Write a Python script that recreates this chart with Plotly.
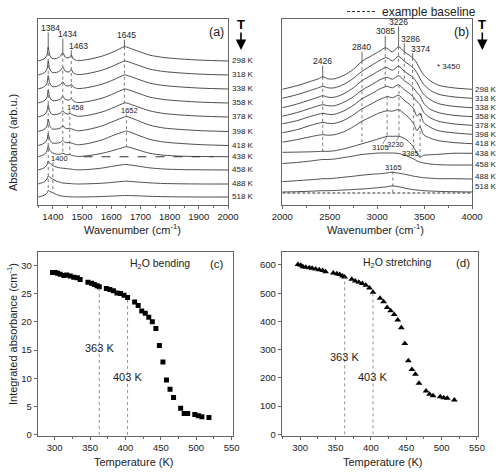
import numpy as np
import plotly.graph_objects as go

FONT = "Liberation Sans, Arial, sans-serif"
INK = "#222222"
CURVE = "#4d4d4d"
GUIDE = "#555555"
FRAME = "#666666"

TEMP_LABELS = ["298 K", "318 K", "338 K", "358 K", "378 K", "398 K",
               "418 K", "438 K", "458 K", "488 K", "518 K"]

# ---------------- panel (a): bending region ----------------
WN_A = [1350, 1372, 1380, 1384, 1389, 1398, 1412, 1426, 1434, 1442, 1452, 1458, 1463,
        1470, 1485, 1520, 1570, 1610, 1645, 1652, 1690, 1730, 1780, 1840, 1910, 2000]
A_298 = [0, 2.5, 6, 14, 6, 2.5, 2.5, 5, 8.3, 4, 3, 4, 6, 2, 0.5, 1.5, 5, 9.5, 14.3, 14, 10, 6, 3.5, 2, 0.8, 0]
A_318 = [0, 2.5, 6, 14, 6, 2.5, 2.5, 4.5, 7.8, 4, 3, 3.5, 5.5, 2, 0.5, 1.5, 5, 9.5, 14, 13.8, 10, 6, 3.5, 2, 0.8, 0]
A_338 = [0, 2.5, 6, 13.5, 6, 2.5, 2.5, 4.5, 7.3, 3.8, 3, 3.5, 5, 2, 0.5, 1.5, 5, 9.5, 14, 13.8, 10, 6, 3.5, 2, 0.8, 0]
A_358 = [0, 2.5, 6, 13, 6, 2.5, 2.5, 4, 6.8, 3.5, 3, 3.3, 4.5, 2, 0.5, 1.5, 5, 9.5, 14, 13.8, 10, 6, 3.5, 2, 0.8, 0]
A_378 = [0, 2.5, 6, 12.5, 6, 2.5, 2.5, 4, 6.2, 3.5, 3, 3.5, 3, 2, 0.7, 1.7, 5.2, 9.7, 14, 14, 10.3, 6.3, 3.5, 2, 0.8, 0]
A_398 = [0, 2.5, 6, 12.5, 6, 2.5, 2.5, 3.5, 5.7, 3.3, 3, 3.3, 2.8, 2, 0.7, 2, 5.8, 10.5, 14.5, 15, 11, 6.5, 3.5, 2, 0.8, 0]
A_418 = [0, 2.5, 6, 12, 6, 2.5, 2.3, 3.2, 5, 3, 2.8, 3, 2.5, 1.8, 0.7, 2, 5.8, 10.5, 14, 14.5, 10.5, 6.3, 3.5, 2, 0.8, 0]
A_438 = [0, 2.5, 6, 11, 6.5, 4, 2.5, 2.5, 3.5, 2.3, 2, 2.3, 1.5, 1, 0.3, 1, 3.5, 6.5, 9.5, 10, 7, 3.5, 1.5, 0.5, 0.2, 0]
A_458 = [0, 2.5, 5.5, 9, 7, 4.5, 3, 2, 1.8, 1.5, 1.2, 1, 0.8, 0.5, 0.2, 0.5, 2, 4, 5.5, 5.5, 4, 2.2, 1, 0.4, 0.2, 0]
A_488 = [0, 2.5, 5, 8, 7, 5, 3, 1.5, 1, 0.8, 0.5, 0.5, 0.3, 0.2, 0, 0.2, 0.8, 1.8, 2.8, 2.8, 2, 1.2, 0.5, 0.2, 0, 0]
A_518 = [0, 2, 4, 6.5, 5.5, 4.5, 2.5, 1.2, 0.8, 0.5, 0.3, 0.2, 0.2, 0.1, 0, 0.1, 0.5, 1, 1.5, 1.5, 1.2, 0.7, 0.3, 0.1, 0, 0]
SPEC_A = [A_298, A_318, A_338, A_358, A_378, A_398, A_418, A_438, A_458, A_488, A_518]
OFFSET_A = [144, 130, 116, 102, 88, 73.5, 59.5, 48.3, 35, 21, 8]
BASELINE_A_WN = [1505, 1950]

# ---------------- panel (b): stretching region ----------------
WN_B = [2000, 2150, 2300, 2380, 2426, 2480, 2550, 2650, 2750, 2840, 2950, 3030, 3085,
        3105, 3160, 3226, 3286, 3340, 3385, 3420, 3450, 3490, 3560, 3650, 3800, 4000]
B_298 = [0, 3.5, 8, 10.5, 12.5, 10.5, 10.5, 14, 20, 28, 34, 38.5, 41.5, 41, 37.5, 42.5, 37.5, 34, 30.5, 26, 20.5, 14.5, 8.5, 4, 1.5, 0]
B_318 = [0, 3.5, 8, 10.5, 12, 10.5, 10.5, 14, 20, 27, 33.5, 38, 40.5, 40.5, 37.5, 42, 37, 33.5, 30, 25.5, 20, 14, 8, 4, 1.5, 0]
B_338 = [0, 3.5, 8, 10.5, 12, 10.5, 10.5, 14, 20, 27, 33, 37.5, 40, 40, 37.5, 41.5, 36.5, 33, 29.5, 25, 19.5, 13.5, 8, 4, 1.5, 0]
B_358 = [0.5, 4, 8.5, 11, 12, 11, 11, 14.5, 20, 26.5, 32.5, 37, 39, 39.5, 37.5, 41, 36, 32.5, 28.5, 24, 21, 13.5, 7.5, 4, 1.5, 0]
B_378 = [1.5, 4.5, 9, 11, 12, 11, 11, 14.5, 20, 26.5, 32, 36.5, 38.5, 39, 37.5, 40.5, 35.5, 32, 28, 23.5, 21, 13, 7.5, 4, 1.5, 0]
B_398 = [1.5, 4.5, 9, 11, 12, 11, 11, 14, 19.5, 25.5, 31, 35, 37, 38, 36.5, 39, 34, 30, 25.5, 18, 21, 12, 7, 3.5, 1.5, 0]
B_418 = [1.5, 4, 7, 8.5, 9, 8.5, 9, 12, 17, 22.5, 27.5, 31, 32.5, 33, 32.5, 34, 30, 25.5, 20, 13, 17, 9, 5.5, 3, 1.2, 0]
B_438 = [1, 1.2, 1.5, 1.8, 2, 2, 2.5, 4.5, 7, 9.5, 12.5, 15, 16.5, 17, 17, 17, 15, 11, 6, 0, -4, -2, -1.5, -1, 0, 0]
B_458 = [1.5, 2.5, 4, 5, 5.5, 5.5, 6, 7.5, 9, 10.5, 11.5, 12, 12, 12, 12, 11.5, 10, 8, 6, 4, 3, 2, 1, 0.3, 0, 0]
B_488 = [-5, -4, -3, -2.5, -2, -2, -1.5, -0.5, 0.5, 1.5, 2.5, 3, 3.5, 3.8, 4.5, 3.5, 2.5, 1.5, 0.5, 0, -0.5, -1, -1.5, -2, -2, -2.3]
B_518 = [-5.3, -5, -4.5, -4.2, -4, -4, -3.8, -3.3, -2.8, -2.3, -1.5, -0.8, -0.3, 0, 0.8, 0, -1.3, -2.3, -3, -3.3, -3.6, -4, -4.3, -4.7, -5, -5.3]
SPEC_B = [B_298, B_318, B_338, B_358, B_378, B_398, B_418, B_438, B_458, B_488, B_518]
OFFSET_B = [115.7, 106.7, 97.3, 88.3, 79.7, 70.7, 61.3, 51.7, 40, 28.3, 18.3]
BASELINE_B_WN = [2000, 4000]
BASELINE_B_LEVEL = 12

# ---------------- panels (c), (d): integrated absorbance ----------------
T_INT = [297, 301, 304, 308, 313, 317, 322, 327, 332, 336, 347, 352, 356, 360, 363,
         373, 378, 383, 388, 393, 398, 403, 413, 418, 423, 428, 433, 438, 443, 448,
         453, 458, 463, 468, 478, 483, 488, 498, 503, 508, 518]
BEND = [28.7, 28.7, 28.6, 28.4, 28.2, 28.3, 28.1, 27.9, 27.8, 27.5, 27.0, 26.8, 26.6, 26.4, 26.2,
        25.9, 25.7, 25.5, 25.1, 25.0, 24.7, 24.3, 23.5, 22.9, 21.9, 21.5, 20.8, 20.0, 18.8, 15.8,
        12.9, 9.7, 8.1, 6.6, 4.7, 3.8, 3.8, 3.6, 3.4, 3.2, 3.1]
STRETCH = [602, 599, 594, 592, 590, 588, 586, 583, 580, 576, 572, 569, 566, 561, 557,
           549, 543, 539, 534, 528, 518, 503, 482, 470, 449, 438, 425, 405, 378, 322,
           261, 230, 213, 181, 154, 142, 137, 133, 130, 128, 122]
MARK_T = [363, 403]

fig = go.Figure()


def line(xs, ys, ax, dash=None, width=0.8, color=GUIDE):
    fig.add_trace(go.Scatter(x=xs, y=ys, mode="lines", xaxis=ax[0], yaxis=ax[1],
                             line=dict(color=color, width=width, dash=dash),
                             showlegend=False, hoverinfo="skip"))


def text(s, x, y, ax, size=8.5, xanchor="center", yanchor="middle", **kw):
    fig.add_annotation(text=s, x=x, y=y, xref=ax[0], yref=ax[1], showarrow=False,
                       xanchor=xanchor, yanchor=yanchor,
                       font=dict(family=FONT, size=size, color=INK), **kw)


AX_A, AX_B, AX_C, AX_D = ("x", "y"), ("x2", "y2"), ("x3", "y3"), ("x4", "y4")


def val(spec, offs, wns, i, wn):
    return float(np.interp(wn, wns, spec[i]) + offs[i])


# spectra
for i, s in enumerate(SPEC_A):
    fig.add_trace(go.Scatter(x=WN_A, y=np.array(s) + OFFSET_A[i], mode="lines",
                             xaxis="x", yaxis="y", showlegend=False, hoverinfo="skip",
                             line=dict(color=CURVE, width=1, shape="spline", smoothing=0.8)))
for i, s in enumerate(SPEC_B):
    fig.add_trace(go.Scatter(x=WN_B, y=np.array(s) + OFFSET_B[i], mode="lines",
                             xaxis="x2", yaxis="y2", showlegend=False, hoverinfo="skip",
                             line=dict(color=CURVE, width=1, shape="spline", smoothing=0.8)))

# example baselines
fig.add_trace(go.Scatter(x=BASELINE_A_WN, y=[OFFSET_A[7]] * 2, mode="lines", xaxis="x", yaxis="y",
                         line=dict(color="#333", width=1.1, dash="dash"), showlegend=False,
                         hoverinfo="skip"))
fig.add_trace(go.Scatter(x=BASELINE_B_WN, y=[BASELINE_B_LEVEL] * 2, mode="lines", xaxis="x2",
                         yaxis="y2", name="example baseline",
                         line=dict(color="#333", width=1.1, dash="3px,2px"), showlegend=True,
                         hoverinfo="skip"))

va = lambda i, wn: val(SPEC_A, OFFSET_A, WN_A, i, wn)
vb = lambda i, wn: val(SPEC_B, OFFSET_B, WN_B, i, wn)

# ---- peak markers (a): (label, wn, label x, label y, first curve, last curve)
for lab, wn, lx, ly, i0, i1 in [("1384", 1384, 1391, 177, 0, 10), ("1434", 1434, 1450, 171, 0, 7),
                                ("1463", 1463, 1487, 159.3, 0, 3), ("1645", 1645, 1652, 169.7, 0, 4)]:
    text(lab, lx, ly, AX_A, size=8.5)
    line([wn, wn], [ly - 4.5, va(i0, wn)], AX_A, width=0.9)
    line([wn, wn], [va(i0, wn), va(i1, wn)], AX_A, dash="dot")
for lab, wn, lx, ly, i1 in [("1458", 1458, 1477, 97.7, 7), ("1652", 1652, 1664, 94.3, 7),
                            ("1400", 1400, 1421, 46.3, 10)]:
    text(lab, lx, ly, AX_A, size=7.5)
    line([wn, wn], [ly - 3.5, va(i1, wn)], AX_A, dash="dot")

# ---- peak markers (b)
for lab, wn, lx, ly, i1 in [("2426", 2426, 2424, 143.7, 7), ("2840", 2840, 2838, 157.7, 7),
                            ("3085", 3085, 3089, 173.7, 4), ("3226", 3226, 3229, 183, 3),
                            ("3286", 3286, 3347, 166.3, 3), ("3374", 3374, 3456, 156.3, 4)]:
    text(lab, lx, ly, AX_B, size=8.5)
    line([wn, wn], [ly - 4.5, vb(0, wn)], AX_B, width=0.9)
    line([wn, wn], [vb(0, wn), vb(i1, wn)], AX_B, dash="dot")
for lab, wn, lx, ly, i0 in [("3105", 3105, 3034, 57.7, 5), ("3230", 3230, 3190, 60.7, 4),
                            ("3385", 3385, 3355, 51.3, 4)]:
    text(lab, lx, ly, AX_B, size=7.5)
    line([wn, wn], [vb(i0, wn), vb(7, wn)], AX_B, dash="dot")
    line([wn, lx + 0.35 * (wn - lx)], [vb(7, wn), ly + 3.5], AX_B, width=0.7)
text("*", 3453, 89, AX_B, size=8)
line([3453, 3453], [86, vb(7, 3450)], AX_B, dash="dot")
text("* 3450", 3759, 138.7, AX_B, size=8)
text("3165", 3170, 37.7, AX_B, size=7.5)
line([3165, 3165], [33.5, BASELINE_B_LEVEL], AX_B, dash="dot")

# temperature labels
for i, lab in enumerate(TEMP_LABELS):
    fig.add_annotation(text=lab, x=1, y=OFFSET_A[i], xref="x domain", yref="y", xanchor="left",
                       yanchor="middle", xshift=2, showarrow=False,
                       font=dict(family=FONT, size=8, color=INK))
    fig.add_annotation(text=lab, x=1, y=OFFSET_B[i], xref="x2 domain", yref="y2", xanchor="left",
                       yanchor="middle", xshift=1, showarrow=False,
                       font=dict(family=FONT, size=8, color=INK))

text("(a)", 1959, 173, AX_A, size=12.5)
text("(b)", 3892, 173, AX_B, size=12.5)

# T arrows
for px in (241, 482.3):
    fig.add_annotation(text="<b>T</b>", x=px / 500, y=1 - 24 / 474, xref="paper", yref="paper",
                       xanchor="center", yanchor="middle", showarrow=False,
                       font=dict(family=FONT, size=13, color="black"))
    fig.add_annotation(text="", x=px / 500, y=1 - 50 / 474, xref="paper", yref="paper",
                       showarrow=True, ax=0, ay=-19, arrowhead=2, arrowsize=1.3, arrowwidth=1.6,
                       arrowcolor="black")

# ---- (c) and (d)
fig.add_trace(go.Scatter(x=T_INT, y=BEND, mode="markers", xaxis="x3", yaxis="y3",
                         marker=dict(symbol="square", size=5, color="black"),
                         showlegend=False, hoverinfo="skip"))
fig.add_trace(go.Scatter(x=T_INT, y=STRETCH, mode="markers", xaxis="x4", yaxis="y4",
                         marker=dict(symbol="triangle-up", size=6, color="black"),
                         showlegend=False, hoverinfo="skip"))
for t in MARK_T:
    line([t, t], [0, float(np.interp(t, T_INT, BEND))], AX_C, dash="dot", width=0.8, color="#777")
    line([t, t], [0, float(np.interp(t, T_INT, STRETCH))], AX_D, dash="dot", width=0.8, color="#777")
text("363 K", 363, 15.3, AX_C, size=11)
text("403 K", 403, 10.3, AX_C, size=11)
text("363 K", 363, 273, AX_D, size=11)
text("403 K", 403, 204, AX_D, size=11)
text("H<sub>2</sub>O bending", 448.8, 30.2, AX_C, size=10.5)
text("(c)", 529, 30.2, AX_C, size=11.5)
text("H<sub>2</sub>O stretching", 436.5, 606, AX_D, size=10.5)
text("(d)", 530.6, 606, AX_D, size=11.5)


def ptext(s, px, py, size=11, angle=0):
    fig.add_annotation(text=s, x=px / 500, y=1 - py / 474, xref="paper", yref="paper",
                       xanchor="center", yanchor="middle", showarrow=False, textangle=angle,
                       font=dict(family=FONT, size=size, color=INK))


ptext("Wavenumber (cm<sup>-1</sup>)", 132, 229)
ptext("Wavenumber (cm<sup>-1</sup>)", 375, 229)
ptext("Temperature (K)", 133, 462)
ptext("Temperature (K)", 382, 462)
ptext("Absorbance (arb.u.)", 13, 143, angle=-90)
ptext("Integrated absorbance (cm<sup>-1</sup>)", 12, 334, angle=-90)

base = dict(showline=True, linecolor=FRAME, linewidth=1, mirror=True, showgrid=False,
            zeroline=False, ticks="outside", ticklen=3, tickwidth=1, tickcolor=FRAME,
            automargin=False, tickfont=dict(family=FONT, size=9.5, color=INK))
noy = dict(base, ticks="", showticklabels=False)
ya = [1 - 205 / 474, 1 - 19 / 474]
yc = [1 - 435.5 / 474, 1 - 251.7 / 474]

fig.update_layout(
    template="none",
    width=500, height=474, margin=dict(l=0, r=0, t=0, b=0, pad=0, autoexpand=False),
    paper_bgcolor="white", plot_bgcolor="white", hovermode=False,
    xaxis=dict(base, anchor="y", domain=[38 / 500, 228 / 500], range=[1349, 2000], tick0=1400,
               dtick=100, minor=dict(ticks="outside", ticklen=2, dtick=50, tick0=1350, tickcolor=FRAME)),
    yaxis=dict(noy, anchor="x", domain=ya, range=[0, 186]),
    xaxis2=dict(base, anchor="y2", domain=[282.3 / 500, 472 / 500], range=[2000, 4000], tick0=2000,
                dtick=500, minor=dict(ticks="outside", ticklen=2, dtick=250, tickcolor=FRAME)),
    yaxis2=dict(noy, anchor="x2", domain=ya, range=[0, 186]),
    xaxis3=dict(base, anchor="y3", domain=[37.7 / 500, 233 / 500], range=[276, 552], tick0=300,
                dtick=50, minor=dict(ticks="outside", ticklen=2, dtick=25, tickcolor=FRAME)),
    yaxis3=dict(base, anchor="x3", domain=yc, range=[-0.1, 32.4], tick0=0, dtick=5),
    xaxis4=dict(base, anchor="y4", domain=[281.7 / 500, 477.7 / 500], range=[274, 551], tick0=300,
                dtick=50, minor=dict(ticks="outside", ticklen=2, dtick=25, tickcolor=FRAME)),
    yaxis4=dict(base, anchor="x4", domain=yc, range=[-4, 647], tick0=0, dtick=100),
    legend=dict(x=481 / 500, xanchor="right", y=1 + 3 / 474, yanchor="top",
                font=dict(family=FONT, size=12, color=INK), bgcolor="rgba(0,0,0,0)",
                itemwidth=30, borderwidth=0),
)

fig.write_html("out.html", config={"displayModeBar": False, "staticPlot": True},
               post_script="document.body.style.margin='0px';document.body.style.overflow='hidden';")
